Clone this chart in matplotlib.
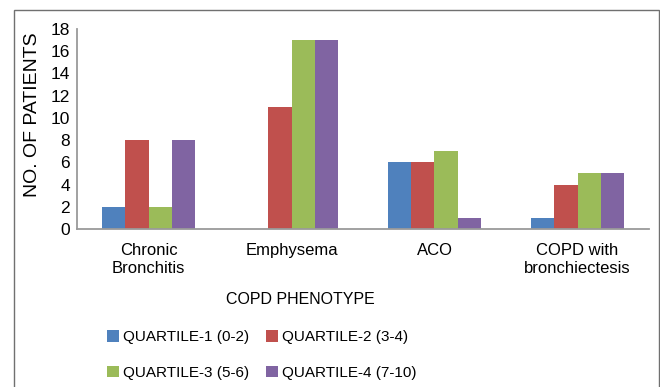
#!/usr/bin/env python3
"""COPD phenotype by quartile - grouped bar chart."""

import numpy as np
import matplotlib

matplotlib.use("Agg")
import matplotlib.pyplot as plt
from matplotlib.patches import Patch, Rectangle

plt.rcParams["font.family"] = ["Liberation Sans", "DejaVu Sans"]

phenotypes = ["Chronic\nBronchitis", "Emphysema", "ACO", "COPD with\nbronchiectesis"]
quartile_labels = [
    "QUARTILE-1 (0-2)",
    "QUARTILE-2 (3-4)",
    "QUARTILE-3 (5-6)",
    "QUARTILE-4 (7-10)",
]
q1 = [2, 0, 6, 1]
q2 = [8, 11, 6, 4]
q3 = [2, 17, 7, 5]
q4 = [8, 17, 1, 5]
y_ticks = [0, 2, 4, 6, 8, 10, 12, 14, 16, 18]

colors = ["#4F81BD", "#C0504D", "#9BBB59", "#8064A2"]

fig = plt.figure(figsize=(6.6, 3.87), dpi=100)
ax = fig.add_axes([77 / 660, 1 - 229 / 387, 572 / 660, 200 / 387])

x = np.arange(len(phenotypes))
width = 0.1625
for j, (vals, col) in enumerate(zip([q1, q2, q3, q4], colors)):
    ax.bar(x + (j - 1.5) * width, vals, width=width, color=col, linewidth=0)

ax.set_xlim(-0.5, len(phenotypes) - 0.5)
ax.set_ylim(0, 18)
ax.set_yticks(y_ticks)
ax.set_xticks(x)
ax.set_xticklabels(phenotypes, fontsize=12, linespacing=1.25)
ax.tick_params(axis="y", length=0, pad=5, labelsize=12.5)
ax.tick_params(axis="x", length=0, pad=10)

for side in ("top", "right"):
    ax.spines[side].set_visible(False)
for side in ("left", "bottom"):
    ax.spines[side].set_color("#9a9a9a")
    ax.spines[side].set_linewidth(1.3)

fig.text(33 / 660, 1 - 115 / 387, "NO. OF PATIENTS", rotation=90,
         ha="center", va="center", fontsize=14)
fig.text(300 / 660, 1 - 300 / 387, "COPD PHENOTYPE", ha="center",
         va="center", fontsize=11.5)

# legend fills column-wise, so interleave to get Q1 Q2 / Q3 Q4 rows
order = [0, 2, 1, 3]
handles = [Patch(facecolor=colors[i], edgecolor="none") for i in order]
labels = [quartile_labels[i] for i in order]
fig.legend(handles, labels, ncol=2, loc="center",
           bbox_to_anchor=(262 / 660, 1 - 355 / 387), frameon=False,
           fontsize=11, handlelength=0.75, handleheight=0.75,
           handletextpad=0.3, columnspacing=1.1, labelspacing=1.4)

fig.patches.append(Rectangle((14 / 660, -0.05), 645 / 660, 1.05 - 10 / 387,
                             transform=fig.transFigure, fill=False,
                             edgecolor="#707070", linewidth=1.0))

fig.savefig("out.png", dpi=100)
